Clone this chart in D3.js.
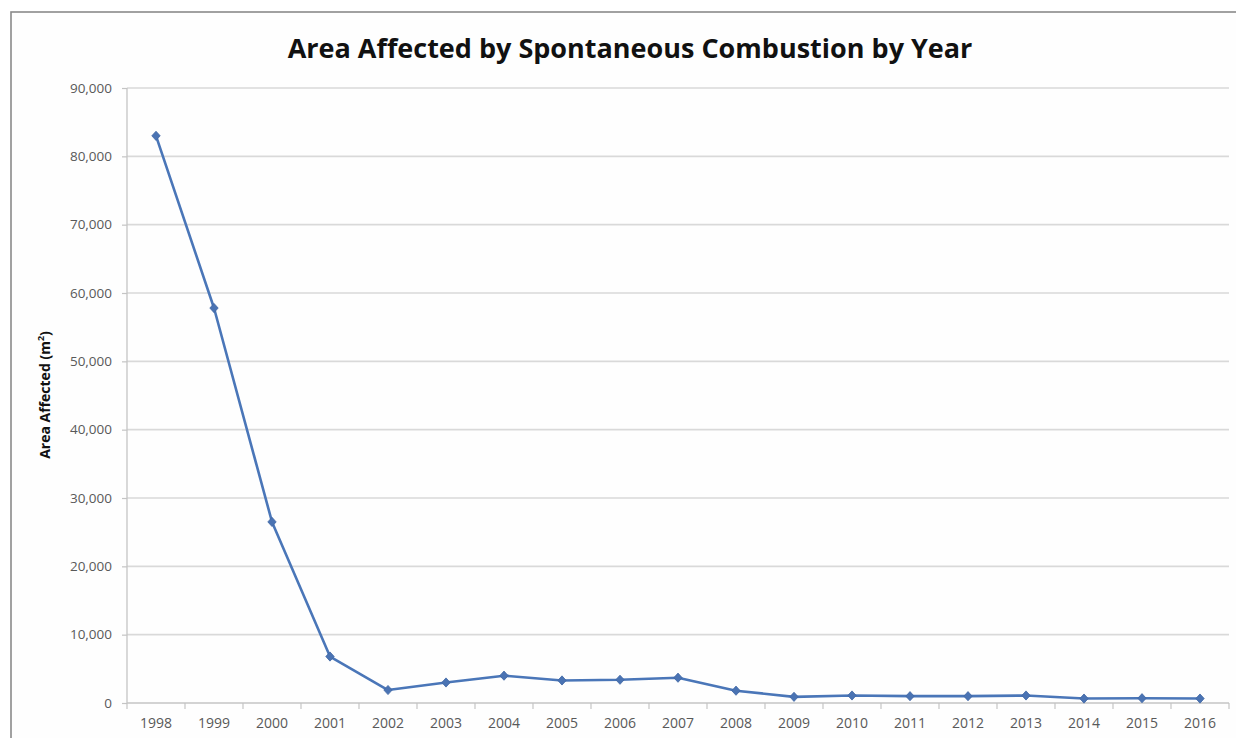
<!DOCTYPE html>
<html>
<head>
<meta charset="utf-8">
<script src="https://cdn.jsdelivr.net/npm/d3@7"></script>
<style>
  html, body { margin: 0; padding: 0; background: #fff; }
  svg { display: block; }
</style>
</head>
<body>
<svg id="chart" width="1236" height="738"></svg>
<script>
const years = ["1998","1999","2000","2001","2002","2003","2004","2005","2006","2007","2008","2009","2010","2011","2012","2013","2014","2015","2016"];
const areaAffected = [83000, 57800, 26500, 6800, 1900, 3000, 4000, 3300, 3400, 3700, 1800, 900, 1100, 1000, 1000, 1100, 650, 700, 650];
const yTicks = [0, 10000, 20000, 30000, 40000, 50000, 60000, 70000, 80000, 90000];
const titleText = "Area Affected by Spontaneous Combustion by Year";
const yTitle = "Area Affected (m";

const svg = d3.select("#chart");
const W = 1236, H = 738;
const m = { left: 127, right: 1229, top: 88, bottom: 703 };

svg.append("rect").attr("x", 0).attr("y", 0).attr("width", W).attr("height", H).attr("fill", "#fff");
svg.append("rect").attr("x", 11).attr("y", 12).attr("width", 1300).attr("height", 800)
  .attr("fill", "#fefefe").attr("stroke", "#8a8a8a").attr("stroke-width", 1.6);

const x = d3.scaleBand().domain(years).range([m.left, m.right]).paddingInner(0).paddingOuter(0);
const y = d3.scaleLinear().domain([0, 90000]).range([m.bottom, m.top]);

svg.append("g").selectAll("line").data(yTicks.filter(d => d > 0)).join("line")
  .attr("x1", m.left).attr("x2", m.right)
  .attr("y1", d => y(d)).attr("y2", d => y(d))
  .attr("stroke", "#d9d9d9").attr("stroke-width", 1.6);

const fontFam = "'Open Sans', sans-serif";

const yAxis = d3.axisLeft(y).tickValues(yTicks).tickSize(5).tickPadding(10)
  .tickFormat(d => d3.format(",")(d));
const gy = svg.append("g").attr("transform", `translate(${m.left},0)`).call(yAxis);
gy.select(".domain").attr("stroke", "#c4c4c4").attr("stroke-width", 1.3).attr("d", `M0,${m.top}V${m.bottom}`);
gy.selectAll(".tick line").attr("stroke", "#c4c4c4").attr("stroke-width", 1.2);
gy.selectAll(".tick text").attr("fill", "#595959").style("font-family", fontFam).style("font-size", "13.5px");

const xAxis = d3.axisBottom(x).tickSize(0).tickPadding(15);
const gx = svg.append("g").attr("transform", `translate(0,${m.bottom})`).call(xAxis);
gx.select(".domain").attr("stroke", "#c4c4c4").attr("stroke-width", 1.3).attr("d", `M${m.left},0H${m.right}`);
gx.selectAll(".tick text").attr("fill", "#595959").style("font-family", fontFam).style("font-size", "14px");
const bounds = years.map(d => x(d)).concat([x(years[years.length - 1]) + x.bandwidth()]);
gx.append("g").selectAll("line").data(bounds).join("line")
  .attr("x1", d => d).attr("x2", d => d).attr("y1", 0).attr("y2", 6)
  .attr("stroke", "#c4c4c4").attr("stroke-width", 1.2);

const line = d3.line().x((d, i) => x(years[i]) + x.bandwidth() / 2).y(d => y(d));
svg.append("path").datum(areaAffected).attr("d", line)
  .attr("fill", "none").attr("stroke", "#4a76b8").attr("stroke-width", 2.6).attr("stroke-linejoin", "round");

const diamond = "M0,-4.6L4.2,0L0,4.6L-4.2,0Z";
svg.append("g").selectAll("path").data(areaAffected).join("path")
  .attr("d", diamond)
  .attr("transform", (d, i) => `translate(${x(years[i]) + x.bandwidth() / 2},${y(d)})`)
  .attr("fill", "#4a73b3").attr("stroke", "#3f66a3").attr("stroke-width", 0.8);

const t = svg.append("text").attr("x", 630).attr("y", 58).attr("text-anchor", "middle")
  .style("font-family", fontFam).style("font-weight", "bold").style("font-size", "25px")
  .attr("fill", "#111").text(titleText);
const tw = t.node().getComputedTextLength();
if (tw > 0) t.style("font-size", (25 * 685 / tw) + "px");

const yt = svg.append("text").attr("transform", `translate(50,395) rotate(-90)`).attr("text-anchor", "middle")
  .style("font-family", fontFam).style("font-weight", "bold").style("font-size", "14px")
  .attr("fill", "#111");
yt.append("tspan").text(yTitle);
yt.append("tspan").attr("dy", -6).style("font-size", "9px").text("2");
yt.append("tspan").attr("dy", 6).text(")");
</script>
</body>
</html>
